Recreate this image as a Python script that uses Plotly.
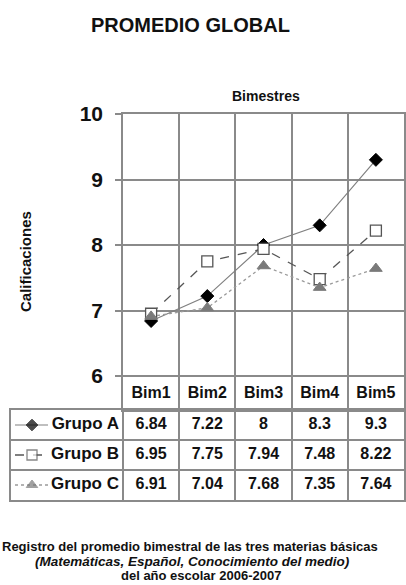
import plotly.graph_objects as go

# ---------------- data ----------------
categories = ["Bim1", "Bim2", "Bim3", "Bim4", "Bim5"]
group_names = ["Grupo A", "Grupo B", "Grupo C"]
grupo_a = [6.84, 7.22, 8, 8.3, 9.3]
grupo_b = [6.95, 7.75, 7.94, 7.48, 8.22]
grupo_c = [6.91, 7.04, 7.68, 7.35, 7.64]
y_ticks = [6, 7, 8, 9, 10]
title_text = "PROMEDIO GLOBAL"
x_title = "Bimestres"
y_title = "Calificaciones"
footer_lines = [
    "Registro del promedio bimestral de las tres materias básicas",
    "<i>(Matemáticas, Español, Conocimiento del medio)</i>",
    "del año escolar 2006-2007",
]

# ---------------- layout geometry (pixels) ----------------
W, H = 406, 585
def px(x):
    return x / W
def py(y):
    return 1 - y / H

plot_left, plot_right = 123, 404
plot_top, y6_px, plot_bottom = 114, 376, 410
table_left, table_bottom = 11, 500
y_unit = (y6_px - plot_top) / 4.0
y_min = 6 - (plot_bottom - y6_px) / y_unit
x_unit = (plot_right - plot_left) / 5.0
x2_min = -0.5 - (plot_left - table_left) / x_unit
def x2_of(pxv):
    return x2_min + (pxv - table_left) / x_unit

FONT = "Liberation Sans"
GRID = "#8a8a8a"
TXT = "#111111"

series = [
    dict(name=group_names[0], vals=grupo_a, line=dict(color="#808080", width=1.2, dash="solid"),
         marker=dict(symbol="diamond", size=10, color="#000000", line=dict(color="#000000", width=1))),
    dict(name=group_names[1], vals=grupo_b, line=dict(color="#555555", width=1.3, dash="dash"),
         marker=dict(symbol="square", size=11, color="#ffffff", line=dict(color="#555555", width=1.3))),
    dict(name=group_names[2], vals=grupo_c, line=dict(color="#9a9a9a", width=1.3, dash="dot"),
         marker=dict(symbol="triangle-up", size=11, color="#7a7a7a", line=dict(color="#7a7a7a", width=1))),
]

fig = go.Figure()

# main lines
for s in series:
    fig.add_trace(go.Scatter(
        x=categories, y=s["vals"], mode="lines+markers", name=s["name"],
        line=s["line"], marker=s["marker"], xaxis="x", yaxis="y",
        cliponaxis=False, hoverinfo="x+y+name"))

# category labels row (inside plot frame)
header_y = 6 - (394 - y6_px) / y_unit
fig.add_trace(go.Scatter(
    x=categories, y=[header_y] * len(categories), mode="text", text=categories,
    textfont=dict(family=FONT, size=16, color=TXT, weight="bold"),
    xaxis="x", yaxis="y", hoverinfo="skip", cliponaxis=False))

# table values
row_y = [2.5, 1.5, 0.5]
tx, ty, tt = [], [], []
for r, s in enumerate(series):
    for i, v in enumerate(s["vals"]):
        tx.append(i)
        ty.append(row_y[r])
        tt.append("{:g}".format(v))
fig.add_trace(go.Scatter(
    x=tx, y=ty, mode="text", text=tt,
    textfont=dict(family=FONT, size=16, color=TXT, weight="bold"),
    xaxis="x2", yaxis="y2", hoverinfo="skip", cliponaxis=False))

# row labels
fig.add_trace(go.Scatter(
    x=[x2_of(119)] * 3, y=row_y, mode="text", text=group_names,
    textposition="middle left",
    textfont=dict(family=FONT, size=17, color=TXT, weight="bold"),
    xaxis="x2", yaxis="y2", hoverinfo="skip", cliponaxis=False))

# legend keys in table
for r, s in enumerate(series):
    mk = dict(s["marker"])
    mk["size"] = [0, s["marker"]["size"] - 1, 0]
    fig.add_trace(go.Scatter(
        x=[x2_of(15), x2_of(32), x2_of(48)], y=[row_y[r]] * 3,
        mode="lines+markers", line=s["line"], marker=mk,
        xaxis="x2", yaxis="y2", hoverinfo="skip", cliponaxis=False))

axis_common = dict(showgrid=True, gridcolor=GRID, gridwidth=1.5, zeroline=False,
                   showline=True, mirror=True, linecolor=GRID, linewidth=1.5,
                   fixedrange=True, automargin=False)

fig.update_layout(
    width=W, height=H, autosize=False,
    margin=dict(l=0, r=0, t=0, b=0, pad=0, autoexpand=False),
    paper_bgcolor="white", plot_bgcolor="white", showlegend=False,
    xaxis=dict(domain=[px(plot_left), px(plot_right)], type="category",
               range=[-0.5, 4.5], tickson="boundaries", showticklabels=False,
               ticks="", anchor="y", **axis_common),
    yaxis=dict(domain=[py(plot_bottom), py(plot_top)], range=[y_min, 10],
               tickmode="array", tickvals=y_ticks, ticks="outside", ticklen=6,
               tickcolor=GRID, tickwidth=1.5, ticklabelstandoff=8,
               tickfont=dict(family=FONT, size=21, color=TXT, weight="bold"),
               anchor="x", **axis_common),
    xaxis2=dict(domain=[px(table_left), px(plot_right)], range=[x2_min, 4.5],
                tickmode="array", tickvals=[-0.5, 0.5, 1.5, 2.5, 3.5],
                showticklabels=False, ticks="", anchor="y2", **axis_common),
    yaxis2=dict(domain=[py(table_bottom), py(plot_bottom)], range=[0, 3],
                tickmode="array", tickvals=[1, 2], showticklabels=False,
                ticks="", anchor="x2", **axis_common),
)

ann = []
ann.append(dict(text="<b>" + title_text + "</b>", x=px(190), y=py(25), xref="paper", yref="paper",
                showarrow=False, xanchor="center", yanchor="middle",
                font=dict(family=FONT, size=20, color=TXT)))
ann.append(dict(text="<b>" + x_title + "</b>", x=px(266), y=py(96), xref="paper", yref="paper",
                showarrow=False, xanchor="center", yanchor="middle",
                font=dict(family=FONT, size=14, color=TXT)))
ann.append(dict(text="<b>" + y_title + "</b>", x=px(25), y=py(262), xref="paper", yref="paper",
                showarrow=False, xanchor="center", yanchor="middle", textangle=-90,
                font=dict(family=FONT, size=15, color=TXT)))
for txt, xc, yc, fs in zip(footer_lines, [190, 192, 201], [546, 561, 575], [13, 13.5, 13]):
    ann.append(dict(text="<b>" + txt + "</b>", x=px(xc), y=py(yc), xref="paper", yref="paper",
                    showarrow=False, xanchor="center", yanchor="middle",
                    font=dict(family=FONT, size=fs, color=TXT)))
fig.update_layout(annotations=ann)

fig.write_html("out.html", config={"displayModeBar": False, "responsive": False},
               post_script="document.body.style.margin='0';document.body.style.overflow='hidden';")
